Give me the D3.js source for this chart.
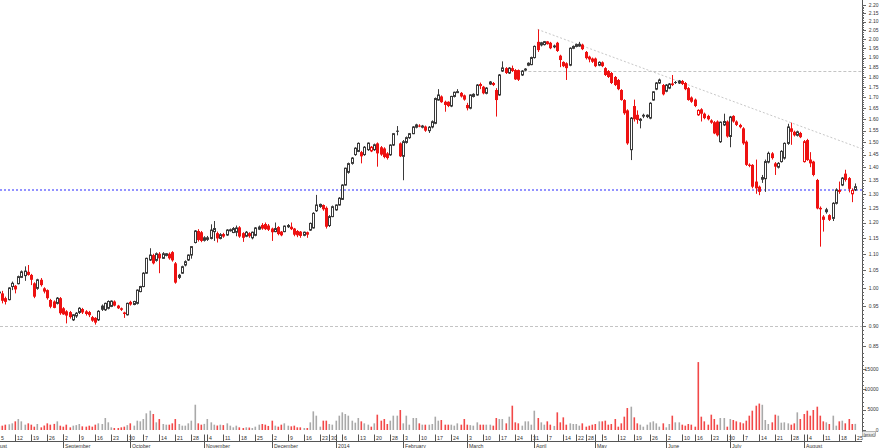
<!DOCTYPE html>
<html><head><meta charset="utf-8">
<script src="https://cdn.jsdelivr.net/npm/d3@7"></script>
<style>body{margin:0;background:#fff}svg{display:block}text{font-family:Arial,"Liberation Sans",sans-serif}</style>
</head><body><svg id="c" width="880" height="448"></svg>
<script>
// ---- calendar (ASX trading days) ----
const firstDay = "2013-08-05";
const lastDay = "2014-08-25";
const holidays = ["2013-12-25","2013-12-26","2014-01-01","2014-01-27","2014-04-18","2014-04-21","2014-04-25","2014-06-09"];
// ---- daily OHLC ----
const open = [
0.990,0.985,0.972,0.968,1.004,1.006,1.012,1.030,1.035,1.046,
1.037,1.013,0.999,1.023,0.999,0.994,0.967,0.963,0.958,0.972,
0.945,0.937,0.935,0.915,0.925,0.934,0.943,0.937,0.935,0.922,
0.920,0.915,0.952,0.941,0.945,0.950,0.963,0.952,0.945,0.934,
0.928,0.962,0.955,0.958,0.990,1.004,1.042,1.081,1.096,1.080,
1.100,1.086,1.095,1.100,1.105,1.071,1.030,1.042,1.066,1.081,
1.096,1.135,1.172,1.168,1.142,1.145,1.148,1.170,1.165,1.148,
1.162,1.159,1.175,1.167,1.168,1.184,1.165,1.155,1.165,1.150,
1.158,1.178,1.192,1.195,1.190,1.180,1.170,1.185,1.170,1.170,
1.186,1.186,1.180,1.172,1.170,1.158,1.168,1.175,1.182,1.240,
1.255,1.260,1.250,1.190,1.220,1.243,1.260,1.280,1.332,1.380,
1.415,1.450,1.463,1.460,1.450,1.470,1.465,1.470,1.496,1.480,
1.475,1.455,1.449,1.489,1.550,1.496,1.443,1.500,1.520,1.537,
1.565,1.572,1.565,1.568,1.550,1.566,1.582,1.688,1.705,1.680,
1.680,1.660,1.705,1.727,1.722,1.710,1.665,1.650,1.705,1.712,
1.765,1.752,1.720,1.765,1.770,1.736,1.712,1.830,1.845,1.820,
1.845,1.835,1.835,1.810,1.835,1.860,1.863,1.900,1.985,1.968,
1.970,1.975,1.980,1.965,1.980,1.910,1.877,1.870,1.860,1.950,
1.960,1.962,1.970,1.930,1.905,1.895,1.895,1.860,1.875,1.845,
1.830,1.820,1.800,1.785,1.736,1.688,1.640,1.470,1.660,1.620,
1.595,1.620,1.612,1.605,1.688,1.740,1.770,1.760,1.730,1.745,
1.768,1.775,1.770,1.780,1.770,1.745,1.700,1.690,1.620,1.645,
1.625,1.615,1.595,1.587,1.590,1.503,1.575,1.590,1.525,1.615,
1.590,1.575,1.560,1.503,1.410,1.409,1.345,1.326,1.362,1.356,
1.420,1.455,1.415,1.400,1.422,1.436,1.496,1.560,1.545,1.530,
1.540,1.422,1.510,1.430,1.422,1.351,1.250,1.220,1.245,1.225,
1.214,1.266,1.314,1.332,1.375,1.358,1.300,1.314];
const high = [
0.998,0.992,0.976,1.002,1.018,1.008,1.035,1.050,1.062,1.066,
1.040,1.016,1.026,1.028,1.002,0.996,0.970,0.966,0.975,0.975,
0.948,0.940,0.938,0.930,0.935,0.948,0.946,0.940,0.938,0.925,
0.922,0.940,0.955,0.960,0.966,0.966,0.966,0.954,0.947,0.936,
0.960,0.965,0.965,0.996,1.006,1.045,1.088,1.117,1.100,1.104,
1.105,1.105,1.102,1.104,1.108,1.075,1.040,1.064,1.080,1.098,
1.124,1.175,1.178,1.172,1.155,1.156,1.194,1.205,1.170,1.165,
1.166,1.178,1.180,1.185,1.190,1.188,1.168,1.172,1.168,1.170,
1.185,1.190,1.198,1.200,1.195,1.183,1.200,1.188,1.172,1.190,
1.195,1.200,1.182,1.175,1.172,1.170,1.170,1.200,1.235,1.296,
1.265,1.262,1.255,1.225,1.258,1.262,1.288,1.335,1.398,1.418,
1.440,1.480,1.500,1.465,1.485,1.500,1.485,1.495,1.500,1.485,
1.480,1.460,1.492,1.540,1.570,1.500,1.510,1.525,1.540,1.570,
1.580,1.578,1.575,1.572,1.570,1.595,1.700,1.740,1.710,1.685,
1.682,1.708,1.728,1.740,1.726,1.714,1.675,1.715,1.720,1.765,
1.772,1.756,1.750,1.780,1.775,1.745,1.815,1.880,1.850,1.850,
1.858,1.840,1.838,1.835,1.845,1.875,1.905,1.965,2.055,1.985,
1.990,1.990,1.985,1.970,1.985,1.915,1.880,1.875,1.955,1.965,
1.975,1.985,1.975,1.935,1.910,1.900,1.900,1.880,1.880,1.850,
1.835,1.825,1.805,1.790,1.740,1.692,1.645,1.610,1.690,1.640,
1.605,1.625,1.622,1.678,1.730,1.775,1.792,1.765,1.765,1.770,
1.810,1.780,1.785,1.785,1.775,1.750,1.705,1.695,1.645,1.650,
1.630,1.620,1.600,1.592,1.595,1.590,1.625,1.595,1.615,1.618,
1.595,1.580,1.565,1.508,1.415,1.412,1.430,1.330,1.370,1.430,
1.462,1.460,1.420,1.420,1.468,1.500,1.580,1.585,1.550,1.550,
1.545,1.510,1.515,1.460,1.425,1.355,1.255,1.225,1.250,1.228,
1.270,1.320,1.345,1.362,1.390,1.362,1.320,1.338];
const low = [
0.975,0.958,0.955,0.966,0.994,0.985,1.010,1.028,1.020,1.035,
1.008,0.972,0.995,1.004,0.985,0.968,0.945,0.945,0.955,0.928,
0.928,0.906,0.918,0.912,0.920,0.930,0.930,0.926,0.922,0.910,
0.903,0.912,0.938,0.938,0.942,0.948,0.950,0.943,0.938,0.920,
0.926,0.952,0.953,0.955,0.988,1.002,1.040,1.078,1.068,1.076,
1.042,1.084,1.092,1.082,1.076,1.012,1.025,1.040,1.062,1.078,
1.085,1.132,1.138,1.136,1.138,1.140,1.145,1.140,1.135,1.145,
1.150,1.156,1.170,1.165,1.155,1.150,1.137,1.152,1.150,1.145,
1.155,1.175,1.176,1.175,1.172,1.140,1.168,1.158,1.155,1.168,
1.182,1.175,1.155,1.152,1.150,1.155,1.150,1.172,1.180,1.236,
1.250,1.240,1.180,1.185,1.218,1.240,1.258,1.278,1.330,1.375,
1.410,1.445,1.460,1.415,1.445,1.465,1.460,1.465,1.402,1.445,
1.435,1.430,1.445,1.485,1.530,1.440,1.350,1.495,1.515,1.535,
1.560,1.565,1.560,1.545,1.540,1.560,1.578,1.685,1.675,1.634,
1.655,1.655,1.700,1.722,1.700,1.685,1.640,1.645,1.700,1.708,
1.740,1.715,1.715,1.760,1.755,1.612,1.708,1.825,1.815,1.815,
1.825,1.785,1.780,1.805,1.830,1.855,1.860,1.895,1.930,1.960,
1.965,1.970,1.945,1.950,1.930,1.850,1.850,1.785,1.855,1.945,
1.955,1.958,1.940,1.890,1.875,1.872,1.850,1.855,1.850,1.805,
1.795,1.765,1.755,1.735,1.685,1.620,1.490,1.428,1.590,1.580,
1.560,1.605,1.605,1.600,1.685,1.735,1.765,1.710,1.725,1.740,
1.755,1.765,1.765,1.760,1.735,1.685,1.675,1.655,1.615,1.590,
1.600,1.595,1.580,1.535,1.525,1.498,1.570,1.520,1.480,1.585,
1.570,1.560,1.490,1.405,1.400,1.320,1.300,1.295,1.340,1.307,
1.415,1.430,1.370,1.395,1.418,1.430,1.490,1.490,1.525,1.525,
1.518,1.418,1.425,1.400,1.365,1.245,1.122,1.170,1.230,1.205,
1.205,1.262,1.300,1.328,1.345,1.305,1.270,1.310];
const close = [
0.985,0.965,0.962,1.000,1.013,0.996,1.032,1.046,1.048,1.037,
1.023,0.976,1.023,1.008,0.990,0.972,0.949,0.946,0.972,0.932,
0.929,0.926,0.922,0.928,0.932,0.945,0.934,0.930,0.927,0.913,
0.908,0.937,0.941,0.958,0.963,0.964,0.952,0.945,0.941,0.930,
0.958,0.955,0.963,0.994,1.004,1.042,1.086,1.096,1.071,1.100,
1.086,1.100,1.100,1.086,1.080,1.015,1.036,1.061,1.076,1.096,
1.122,1.172,1.143,1.140,1.150,1.150,1.175,1.180,1.148,1.160,
1.154,1.175,1.176,1.180,1.182,1.154,1.150,1.168,1.155,1.168,
1.182,1.185,1.180,1.178,1.176,1.168,1.180,1.162,1.158,1.188,
1.190,1.178,1.160,1.158,1.156,1.168,1.160,1.197,1.231,1.260,
1.262,1.245,1.186,1.220,1.254,1.260,1.284,1.332,1.396,1.414,
1.436,1.476,1.496,1.443,1.480,1.497,1.480,1.490,1.455,1.450,
1.440,1.436,1.489,1.537,1.545,1.443,1.503,1.520,1.537,1.566,
1.575,1.568,1.570,1.550,1.565,1.589,1.695,1.712,1.678,1.665,
1.660,1.705,1.725,1.728,1.705,1.690,1.650,1.712,1.715,1.760,
1.755,1.720,1.745,1.775,1.760,1.688,1.810,1.846,1.820,1.845,
1.830,1.788,1.786,1.830,1.840,1.870,1.900,1.960,1.940,1.980,
1.986,1.985,1.950,1.955,1.935,1.887,1.855,1.845,1.950,1.960,
1.970,1.972,1.945,1.897,1.890,1.878,1.855,1.875,1.855,1.810,
1.800,1.770,1.760,1.740,1.688,1.627,1.496,1.605,1.600,1.597,
1.600,1.612,1.618,1.673,1.727,1.770,1.785,1.715,1.760,1.765,
1.760,1.770,1.780,1.765,1.740,1.688,1.680,1.660,1.640,1.625,
1.605,1.600,1.585,1.538,1.530,1.587,1.590,1.525,1.610,1.590,
1.575,1.565,1.496,1.409,1.405,1.326,1.320,1.307,1.352,1.422,
1.455,1.436,1.402,1.415,1.463,1.496,1.566,1.545,1.530,1.545,
1.522,1.503,1.428,1.415,1.370,1.248,1.245,1.209,1.235,1.209,
1.266,1.314,1.307,1.358,1.351,1.318,1.312,1.326];
const volume = [
900,1065,1310,1400,1640,2130,2700,2130,1310,1640,
1310,820,1475,655,1100,1640,1310,1500,2130,1065,
820,1310,655,1065,1200,1475,900,820,1065,820,
1310,1640,1475,2950,1885,655,490,490,655,820,
1200,1640,1065,2290,2130,2700,4100,4750,3930,1885,
2700,1475,1310,1310,1640,2700,1475,1065,1065,1640,
2290,6220,1640,1310,1500,2700,1885,1310,1100,1310,
1200,1640,1065,655,1065,655,490,655,600,490,
820,1310,1475,1310,1000,2290,1065,820,1310,1640,
1065,900,1065,655,655,491,491,1884,4586,3522,
819,2293,2293,1474,1310,2293,3522,4341,3931,3522,
2293,1800,2948,2129,1638,1310,819,1638,3767,2293,
2703,1474,2293,3522,3522,4914,1638,3522,1310,2948,
2948,1638,1310,1310,1310,1474,3276,2293,2457,1310,
1310,1310,1065,1638,1310,2703,1310,1200,1065,1884,
1310,1310,1310,1310,1065,2948,2703,2703,1638,3276,
5979,1884,1638,1065,2129,2129,1310,4750,2948,1884,
1310,2129,1310,1000,4341,1884,3112,1310,1638,1474,
1474,1065,1638,819,1065,1310,1474,2129,2129,2293,
1310,1474,2703,819,1638,3276,5406,5733,3112,1638,
1310,819,1310,1884,2129,1638,819,1638,655,1474,
3522,1884,1884,1310,1065,1474,1310,819,16700,3276,
2129,1310,3767,2703,1310,2948,2948,819,2703,2457,
2129,1884,1638,2293,3522,4750,5979,6500,6200,2457,
1474,1884,3767,3522,1800,1884,1638,1310,1638,4341,
2703,3931,4750,3522,4914,5733,3522,2129,1884,1474,
3522,1065,2129,2293,1638,2703,1474,1500];
// ---- reference levels & axis labels ----
const supportLevel = 0.90;
const resistanceLevel = 1.83;
const blueLevel = 1.314;
const resistanceStart = 162;          // index where the 1.83 line starts
const trendAnchors = [[168, 2.055], [247, 1.585]]; // [index, price] of highs
const priceTicks = [0.85,0.90,0.95,1.00,1.05,1.10,1.15,1.20,1.25,1.30,1.35,1.40,1.45,1.50,1.55,1.60,1.65,1.70,1.75,1.80,1.85,1.90,1.95,2.00,2.05,2.10,2.15,2.20];
const volumeTicks = [0,5000,10000,15000];
const monthNames = ["January","February","March","April","May","June","July","August","September","October","November","December"];

// ---- build ----
const svg = d3.select("#c");
const AX = 862;
const parse = d3.utcParse("%Y-%m-%d"), fmt = d3.utcFormat("%Y-%m-%d");
const hol = new Set(holidays);
const cal = d3.utcDays(parse(firstDay), d3.utcDay.offset(parse(lastDay), 1))
  .filter(d => { const w = d.getUTCDay(); return w !== 0 && w !== 6 && !hol.has(fmt(d)); });
const N = close.length;
const dates = cal.slice(Math.max(0, cal.length - N));
const step = 3.206;
const x = d3.scaleLinear().domain([0, N - 1]).range([-1, -1 + step * (N - 1)]);
const y = d3.scaleLog().domain([0.85, 2.2]).range([346.3, 4.95]);
const yv = d3.scaleLinear().domain([0, 15000]).range([430, 369]);

svg.append("defs").append("clipPath").attr("id", "plot")
  .append("rect").attr("x", 0).attr("y", 0).attr("width", AX).attr("height", 432);
const plot = svg.append("g").attr("clip-path", "url(#plot)");

// reference lines
plot.append("line").attr("x1", 0).attr("x2", AX).attr("y1", Math.round(y(supportLevel)) + 0.5).attr("y2", Math.round(y(supportLevel)) + 0.5)
  .attr("stroke", "#c4c4c4").attr("stroke-dasharray", "3,2");
plot.append("line").attr("x1", x(resistanceStart)).attr("x2", AX).attr("y1", Math.round(y(resistanceLevel)) + 0.5).attr("y2", Math.round(y(resistanceLevel)) + 0.5)
  .attr("stroke", "#c4c4c4").attr("stroke-dasharray", "3,2");
const [a0, a1] = trendAnchors;
const tx0 = x(a0[0]), ty0 = y(a0[1]), tx1 = x(a1[0]), ty1 = y(a1[1]);
const slope = (ty1 - ty0) / (tx1 - tx0);
plot.append("line").attr("x1", tx0).attr("y1", ty0).attr("x2", AX).attr("y2", ty0 + slope * (AX - tx0))
  .attr("stroke", "#c8c8c8").attr("stroke-dasharray", "2,2");
plot.append("line").attr("x1", 0).attr("x2", AX).attr("y1", y(blueLevel)).attr("y2", y(blueLevel))
  .attr("stroke", "#7070ff").attr("stroke-width", 1.5).attr("stroke-dasharray", "2,2");

const RED = "#ee1111", DARK = "#3a3a3a";
const col = i => (i === 0 || close[i] >= close[i - 1]) ? DARK : RED;

// volume
plot.append("g").selectAll("rect").data(d3.range(N)).join("rect")
  .attr("x", i => Math.round(x(i)) - 0.5).attr("width", 1.6)
  .attr("y", i => yv(volume[i])).attr("height", i => yv(0) - yv(volume[i]))
  .attr("fill", i => col(i) === RED ? "#f24848" : "#a9a9a9");

// candles
const cg = plot.append("g");
d3.range(N).forEach(i => {
  const xc = Math.round(x(i)), c = col(i);
  cg.append("line").attr("x1", xc + 0.5).attr("x2", xc + 0.5).attr("y1", y(high[i])).attr("y2", y(low[i]))
    .attr("stroke", c).attr("stroke-width", 1);
  const top = y(Math.max(open[i], close[i])), bot = y(Math.min(open[i], close[i]));
  if (close[i] >= open[i]) {
    cg.append("rect").attr("x", xc - 0.5).attr("width", 2).attr("y", top).attr("height", Math.max(1, bot - top))
      .attr("fill", "#fff").attr("stroke", c).attr("stroke-width", 1);
  } else {
    cg.append("rect").attr("x", xc - 1).attr("width", 3).attr("y", top).attr("height", Math.max(1, bot - top))
      .attr("fill", c);
  }
});

// right axis
const ax = svg.append("g");
ax.append("line").attr("x1", AX + 0.5).attr("x2", AX + 0.5).attr("y1", 0).attr("y2", 432).attr("stroke", "#555");
d3.range(85, 221).forEach(k => {
  const v = k / 100, yy = Math.round(y(v)) + 0.5;
  ax.append("line").attr("x1", AX).attr("x2", AX + (k % 5 === 0 ? 4 : 2)).attr("y1", yy).attr("y2", yy).attr("stroke", "#666");
});
priceTicks.forEach(v => ax.append("text").attr("x", 878.5).attr("y", y(v)).attr("dy", "0.35em")
  .attr("text-anchor", "end").attr("font-size", 5).attr("fill", "#333").text(v.toFixed(2)));
d3.range(0, 19001, 1000).forEach(v => {
  const yy = Math.round(yv(v)) + 0.5;
  ax.append("line").attr("x1", AX).attr("x2", AX + (v % 5000 === 0 ? 4 : 2)).attr("y1", yy).attr("y2", yy).attr("stroke", "#666");
});
volumeTicks.forEach(v => ax.append("text").attr("x", 878.5).attr("y", yv(v)).attr("dy", "0.35em")
  .attr("text-anchor", "end").attr("font-size", 5).attr("fill", "#333").text(v));
ax.append("rect").attr("x", 862.5).attr("y", 431.5).attr("width", 13).attr("height", 5).attr("fill", "#eee").attr("stroke", "#777").attr("stroke-width", 0.5);
ax.append("text").attr("x", 863.5).attr("y", 435.6).attr("font-size", 4).attr("fill", "#333").text("(price)");

// bottom date axis
const bx = svg.append("g");
bx.append("line").attr("x1", 0).attr("x2", AX).attr("y1", 441.5).attr("y2", 441.5).attr("stroke", "#555");
dates.forEach((d, i) => {
  const xc = Math.round(x(i)) + 0.5;
  const weekStart = i === 0 || d3.utcMonday.floor(d) > dates[i - 1];
  const monthStart = i > 0 && d.getUTCMonth() !== dates[i - 1].getUTCMonth();
  if (weekStart) {
    bx.append("line").attr("x1", xc).attr("x2", xc).attr("y1", 434.5).attr("y2", 441.5).attr("stroke", "#555");
    bx.append("text").attr("x", xc + 1.5).attr("y", 440).attr("font-size", 5.2).attr("fill", "#333").text(d.getUTCDate());
  }
  if (monthStart) {
    bx.append("line").attr("x1", xc).attr("x2", xc).attr("y1", 434.5).attr("y2", 448).attr("stroke", "#555");
    const m = d.getUTCMonth();
    bx.append("text").attr("x", xc + 1.5).attr("y", 447.5).attr("font-size", 5.2).attr("fill", "#333")
      .text(m === 0 ? d.getUTCFullYear() : monthNames[m]);
  }
});
// first (partially hidden) month label: August 2013 began before the first candle
bx.append("text").attr("x", x(-3) + 1.5).attr("y", 447.5).attr("font-size", 5.2).attr("fill", "#333")
  .text(monthNames[dates[0].getUTCMonth()]);
</script>
</body></html>
